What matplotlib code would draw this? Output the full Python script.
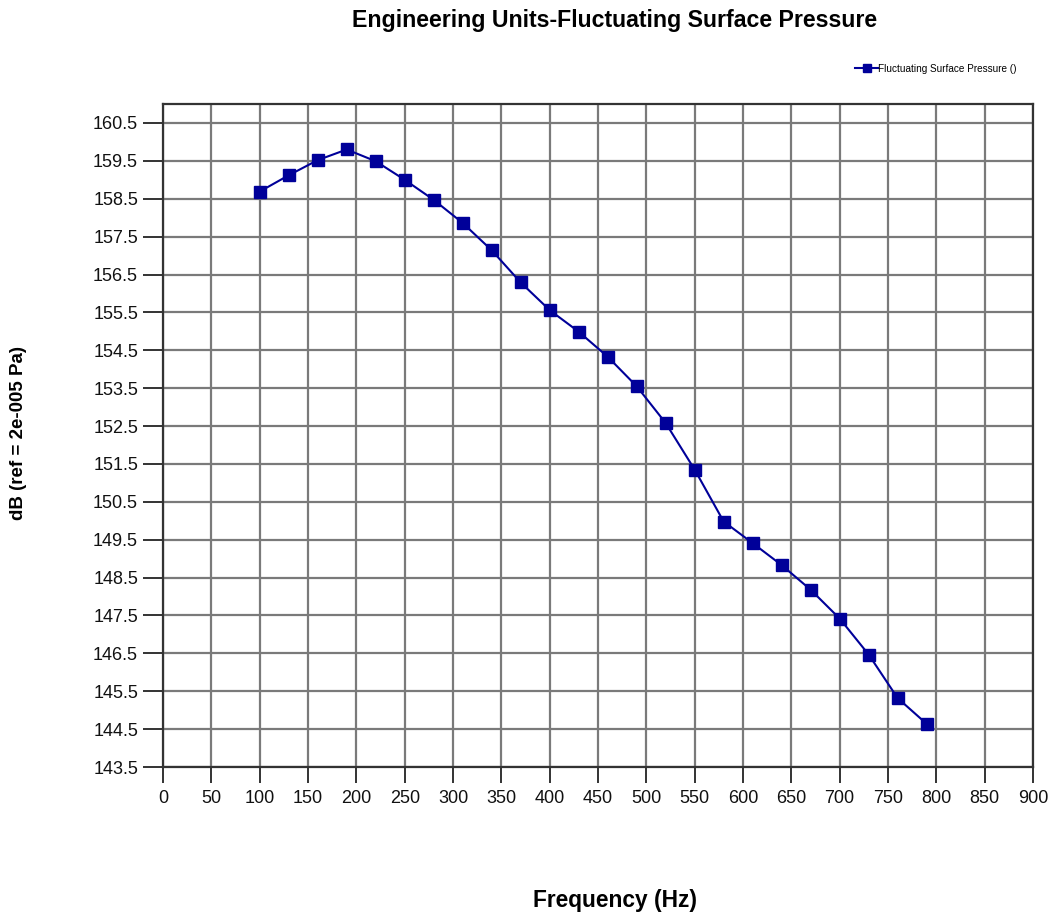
import numpy as np
import matplotlib.pyplot as plt

plt.rcParams['font.family'] = ['Liberation Sans', 'DejaVu Sans']

# 測定データ
freq_hz = [100, 130, 160, 190, 220, 250, 280, 310, 340, 370, 400, 430,
           460, 490, 520, 550, 580, 610, 640, 670, 700, 730, 760, 790]
level_db = [158.69, 159.12, 159.52, 159.80, 159.49, 159.00, 158.47, 157.86,
            157.14, 156.29, 155.56, 154.99, 154.33, 153.55, 152.58, 151.35,
            149.98, 149.41, 148.83, 148.18, 147.42, 146.47, 145.32, 144.64]

x_ticks = np.arange(0, 901, 50)
y_ticks = np.arange(143.5, 160.6, 1.0)

fig = plt.figure(figsize=(10.59, 9.15), dpi=100)
ax = fig.add_axes([0.154, 0.1617, 0.8214, 0.7246])

ax.plot(freq_hz, level_db, color='#000099', lw=1.5, marker='s', ms=9,
        mfc='#000099', mec='#000099', label='Fluctuating Surface Pressure ()',
        zorder=3)

ax.set_xlim(0, 900)
ax.set_ylim(143.5, 161)
ax.set_xticks(x_ticks)
ax.set_yticks(y_ticks)
ax.set_yticklabels([f'{v:.1f}' for v in y_ticks])
ax.grid(True, color='#7a7a7a', lw=1.6)
ax.set_axisbelow(True)
for s in ax.spines.values():
    s.set_color('#333333')
    s.set_linewidth(1.6)
ax.tick_params(axis='both', width=1.4, color='#333333',
               labelsize=13, labelcolor='#111111')
ax.tick_params(axis='x', length=11.5, pad=5)
ax.tick_params(axis='y', length=14.5, pad=3.5)

fig.text(0.58, 0.978, 'Engineering Units-Fluctuating Surface Pressure',
         ha='center', va='center', fontsize=16.7, fontweight='bold')
fig.text(0.581, 0.016, 'Frequency (Hz)', ha='center', va='center',
         fontsize=16.4, fontweight='bold')
fig.text(0.017, 0.527, 'dB (ref = 2e-005 Pa)', ha='center', va='center',
         rotation=90, fontsize=13.5, fontweight='bold')

leg = ax.legend(loc='center left', bbox_to_anchor=(0.79, 1.053), frameon=False,
                fontsize=7.2, handlelength=2.3, handletextpad=0.0, borderpad=0,
                markerscale=0.6)

plt.savefig('out.png', dpi=100)
